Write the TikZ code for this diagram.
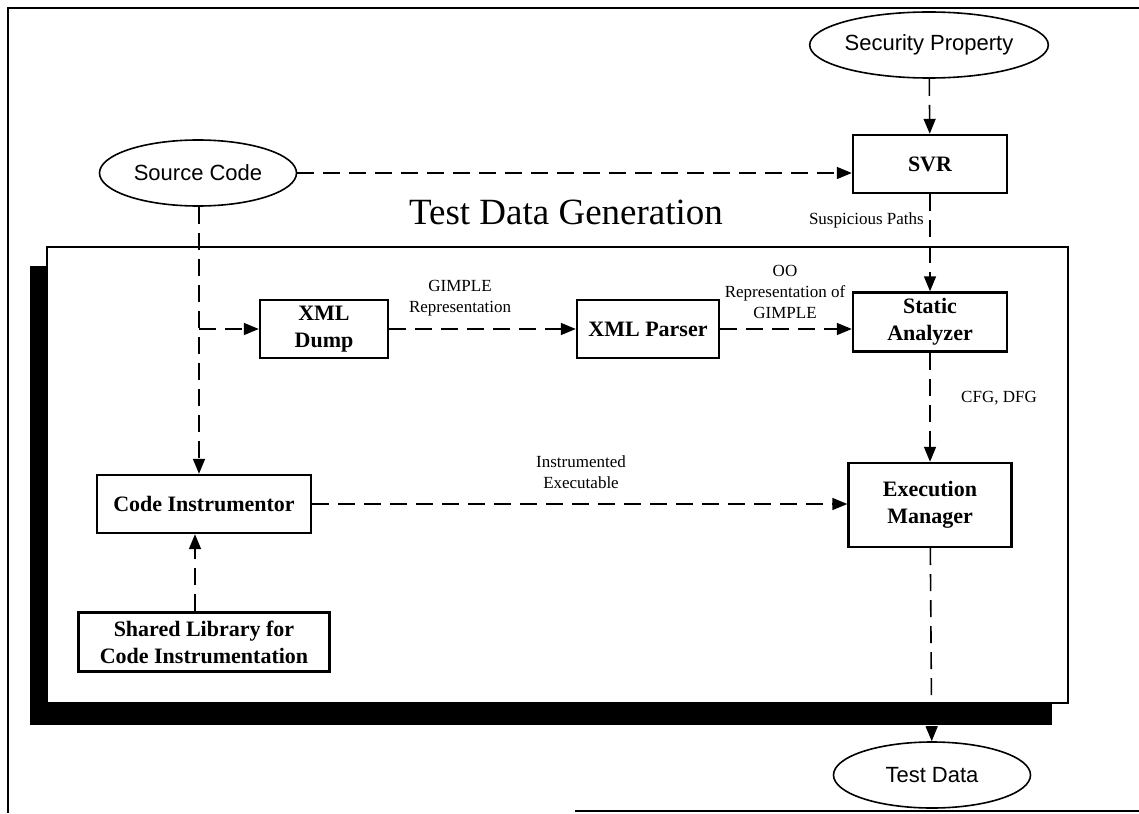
\documentclass[tikz,border=0pt]{standalone}
\usepackage{fontspec}
\setmainfont{Liberation Serif}
\newfontfamily\arialfont{Liberation Sans}
\usetikzlibrary{shapes.geometric,arrows.meta}

\tikzset{
  procbox/.style={draw, line width=2.4pt, fill=white, inner sep=0pt, align=center,
    font=\fontsize{22}{27}\selectfont\bfseries},
  datanode/.style={draw, ellipse, line width=1.6pt, fill=white, inner sep=0pt,
    minimum width=197pt, minimum height=66pt, font=\fontsize{22}{26}\selectfont\arialfont},
  flow/.style={line width=1.6pt, dash pattern=on 17pt off 9pt,
    -{Triangle[length=15pt,width=12pt]}},
  lbl/.style={align=center, inner sep=0pt, font=\fontsize{17}{21}\selectfont},
}

\begin{document}
\begin{tikzpicture}[x=1pt,y=-1pt]
\useasboundingbox (0,0) rectangle (1139,813);

% page frame
\draw[line width=1.6pt] (1139,8) -- (8,8) -- (8,813);
\draw[line width=1.6pt] (575,811) -- (1139,811);

% test data generation panel with its drop shadow
\fill[black] (30,266) rectangle (1052,725);
\draw[line width=1.4pt, fill=white] (47,247) rectangle (1068,703);
\node[font=\fontsize{37}{40}\selectfont, inner sep=0pt] (title) at (566,212) {Test Data Generation};

% inputs and outputs
\node[datanode] (sec) at (929,45) {Security Property};
\node[datanode] (src) at (198,173) {Source Code};
\node[datanode] (tdata) at (932,775) {Test Data};

% processing components
\node[procbox, minimum width=154pt, minimum height=58pt] (svr) at (930,164) {SVR};
\node[procbox, minimum width=154pt, minimum height=59pt] (sa) at (930,322) {Static\\Analyzer};
\node[procbox, minimum width=142pt, minimum height=58pt] (xp) at (648,329) {XML Parser};
\node[procbox, minimum width=128pt, minimum height=58pt] (dump) at (324,329) {XML\\Dump};
\node[procbox, minimum width=214pt, minimum height=58pt] (ci) at (204,504) {Code Instrumentor};
\node[procbox, minimum width=251pt, minimum height=59pt] (lib) at (204,642) {Shared Library for\\Code Instrumentation};
\node[procbox, minimum width=163pt, minimum height=84pt] (em) at (930,505) {Execution\\Manager};

% data flow
\draw[flow] (sec) -- (svr);
\draw[flow] (src.east) -- (svr.west |- src.east);
\draw[flow] (svr) -- (sa);
\draw[flow] (sa) -- (em);
\draw[flow] (em) -- (tdata);
\draw[flow] (dump) -- (xp);
\draw[flow] (xp.east) -- (sa.west |- xp.east);
\draw[flow] (ci.east) -- (em.west |- ci.east);
\coordinate (srcdown) at (src.south -| 199,0);
\coordinate (branch) at (199,329);
\draw[flow] (srcdown) -- (srcdown |- ci.north);
\draw[flow] (branch) -- (dump.west);
\draw[flow] ([xshift=-9pt]lib.north) -- ([xshift=-9pt]ci.south);

% connector labels
\node[lbl, anchor=east] (lsusp) at (924,220) {Suspicious Paths};
\node[lbl] (lgimple) at (460,298) {GIMPLE\\Representation};
\node[lbl] (loo) at (785,292) {OO\\Representation of\\GIMPLE};
\node[lbl] (lcfg) at (999,398) {CFG, DFG};
\node[lbl] (linst) at (581,472) {Instrumented\\Executable};
\end{tikzpicture}
\end{document}
